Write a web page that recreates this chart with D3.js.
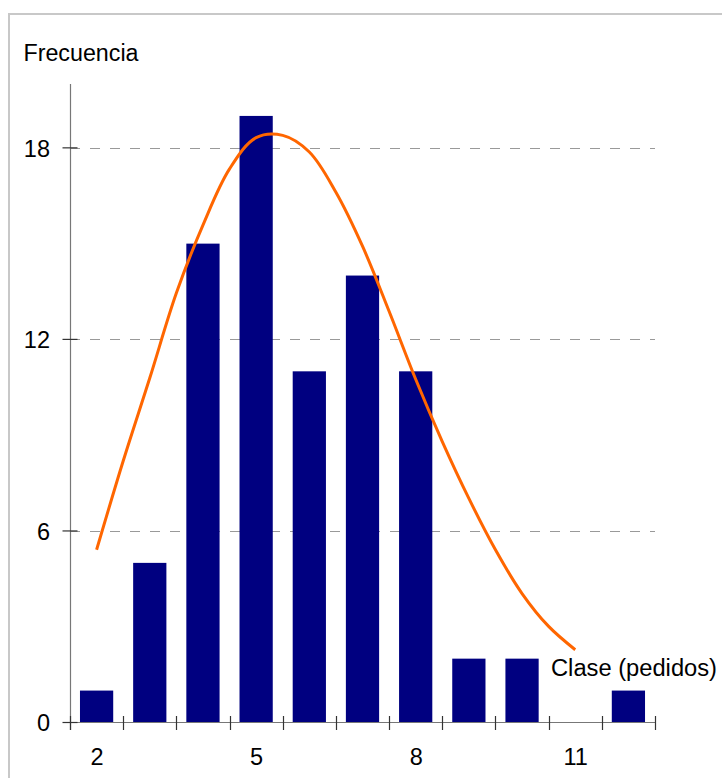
<!DOCTYPE html>
<html>
<head>
<meta charset="utf-8">
<script src="https://cdn.jsdelivr.net/npm/d3@7"></script>
<style>
  html, body { margin: 0; padding: 0; background: #fff; }
  svg { display: block; }
  text { font-family: "Liberation Sans", Arial, sans-serif; fill: #000; }
</style>
</head>
<body>
<svg id="chart" width="722" height="778"></svg>
<script>
// ---- data ----
const categories = [2, 3, 4, 5, 6, 7, 8, 9, 10, 11, 12];
const frequencies = [1, 5, 15, 19, 11, 14, 11, 2, 2, 0, 1];
const curveX = [2, 2.5, 3, 3.5, 4, 4.5, 5, 5.5, 6, 6.5, 7, 7.5, 8, 8.5, 9, 9.5, 10, 10.5, 11];
const curveY = [5.41, 8.19, 10.79, 13.45, 15.58, 17.34, 18.32, 18.39, 17.87, 16.61, 14.92, 12.88, 10.75, 8.80, 7.02, 5.41, 4.04, 3.01, 2.28];
const yTicks = [0, 6, 12, 18];
const xTickLabels = [2, 5, 8, 11];
const yTitle = "Frecuencia";
const xTitle = "Clase (pedidos)";

// ---- layout ----
const svg = d3.select("#chart");
const plotLeft = 70, plotRight = 655, plotTop = 84, plotBottom = 722.5;

svg.append("rect").attr("x", 9).attr("y", 14).attr("width", 800).attr("height", 800)
  .attr("fill", "#fff").attr("stroke", "#c8c8c8").attr("stroke-width", 2);

const x = d3.scaleBand().domain(categories).range([plotLeft, plotRight])
  .paddingInner(0.375).paddingOuter(0.1875);
const xLin = d3.scaleLinear().domain([categories[0] - 0.5, categories[categories.length - 1] + 0.5]).range([plotLeft, plotRight]);
const y = d3.scaleLinear().domain([0, 20]).range([plotBottom, plotTop]);

// gridlines
svg.append("g").selectAll("line").data(yTicks.filter(d => d > 0)).join("line")
  .attr("x1", plotLeft).attr("x2", plotRight)
  .attr("y1", d => Math.round(y(d)) + 0.5).attr("y2", d => Math.round(y(d)) + 0.5)
  .attr("stroke", "#999").attr("stroke-width", 1).attr("stroke-dasharray", "10,10");

// bars
svg.append("g").selectAll("rect").data(categories.map((c, i) => ({c, v: frequencies[i]}))).join("rect")
  .attr("x", d => x(d.c)).attr("width", x.bandwidth())
  .attr("y", d => y(d.v)).attr("height", d => y(0) - y(d.v))
  .attr("fill", "#000080");

// curve
const line = d3.line().x(d => xLin(d[0])).y(d => y(d[1])).curve(d3.curveCatmullRom.alpha(0.5));
svg.append("path").datum(curveX.map((v, i) => [v, curveY[i]]))
  .attr("d", line).attr("fill", "none").attr("stroke", "#FF6600").attr("stroke-width", 3)
  .attr("stroke-linejoin", "round");

// axes lines
const axisG = svg.append("g");
axisG.append("line").attr("x1", plotLeft + 0.5).attr("x2", plotLeft + 0.5).attr("y1", plotTop).attr("y2", 730)
  .attr("stroke", "#777").attr("stroke-width", 1.2);
axisG.append("line").attr("x1", plotLeft).attr("x2", plotRight + 0.5).attr("y1", y(0)).attr("y2", y(0))
  .attr("stroke", "#777").attr("stroke-width", 1.2);

// y ticks (crossing) and labels
axisG.selectAll(".yt").data(yTicks).join("line").attr("class", "yt")
  .attr("x1", 62.5).attr("x2", 77.5).attr("y1", d => y(d)).attr("y2", d => y(d))
  .attr("stroke", "#333").attr("stroke-width", 1.2);
const yAxis = d3.axisLeft(y).tickValues(yTicks).tickSize(0).tickPadding(20).tickFormat(d3.format("d"));
const yAx = svg.append("g").attr("transform", `translate(${plotLeft},0)`).call(yAxis);
yAx.select(".domain").remove();
yAx.selectAll("text").attr("font-size", 23.5).attr("font-family", "Liberation Sans, Arial, sans-serif")
  .attr("fill", "#000").attr("dy", "0.36em");

// x ticks at band boundaries (crossing)
const boundaries = categories.map(c => x(c) - x.step() * x.paddingInner() / 2)
  .concat([plotRight]);
boundaries[0] = plotLeft;
axisG.selectAll(".xt").data(boundaries).join("line").attr("class", "xt")
  .attr("x1", d => Math.round(d) + 0.5).attr("x2", d => Math.round(d) + 0.5)
  .attr("y1", 716).attr("y2", 730)
  .attr("stroke", "#333").attr("stroke-width", 1.2);

// x labels
const xAxis = d3.axisBottom(xLin).tickValues(xTickLabels).tickSize(0).tickPadding(0).tickFormat(d3.format("d"));
const xAx = svg.append("g").attr("transform", `translate(0,765)`).call(xAxis);
xAx.select(".domain").remove();
xAx.selectAll("text").attr("font-size", 23.5).attr("font-family", "Liberation Sans, Arial, sans-serif")
  .attr("fill", "#000").attr("dy", 0).attr("y", 0);

// titles
svg.append("text").attr("x", 23.5).attr("y", 61).attr("font-size", 23.5)
  .attr("textLength", 115).attr("lengthAdjust", "spacingAndGlyphs").text(yTitle);
svg.append("text").attr("x", 551).attr("y", 676).attr("font-size", 23.5)
  .attr("textLength", 166).attr("lengthAdjust", "spacingAndGlyphs").text(xTitle);
</script>
</body>
</html>
